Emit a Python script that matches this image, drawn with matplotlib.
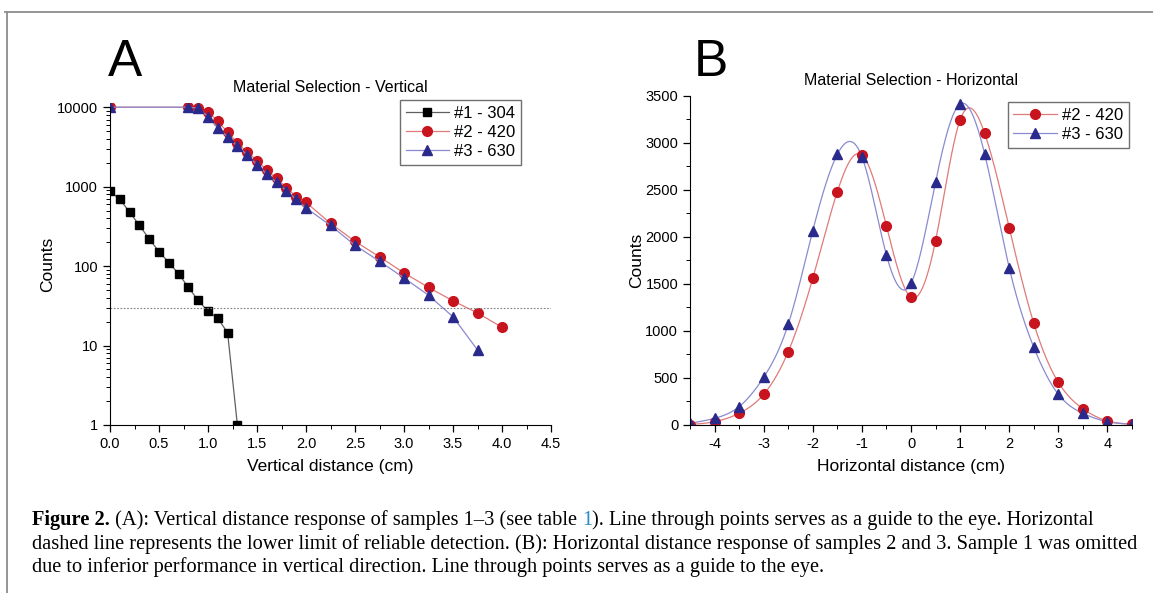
import numpy as np
import matplotlib
matplotlib.use("Agg")
import matplotlib.pyplot as plt
from matplotlib.ticker import MultipleLocator, FixedLocator, FixedFormatter, NullFormatter, LogLocator
from matplotlib.transforms import IdentityTransform
from matplotlib.lines import Line2D

plt.rcParams['font.family'] = ['Liberation Sans', 'DejaVu Sans']
plt.rcParams['axes.unicode_minus'] = False

# panel A - vertical distance (log counts)
vert_x1 = [0.0, 0.1, 0.2, 0.3, 0.4, 0.5, 0.6, 0.7, 0.8, 0.9, 1.0, 1.1, 1.2, 1.3]
vert_c1 = [880, 690, 480, 325, 220, 152, 111, 80, 54, 37, 27, 22, 14.5, 1]
vert_x2 = [0.0, 0.8, 0.9, 1.0, 1.1, 1.2, 1.3, 1.4, 1.5, 1.6, 1.7, 1.8, 1.9, 2.0,
           2.25, 2.5, 2.75, 3.0, 3.25, 3.5, 3.75, 4.0]
vert_c2 = [10000, 10000, 9800, 8740, 6610, 4870, 3550, 2710, 2130, 1610, 1270, 970, 750, 635,
           345, 205, 131, 82, 54, 36.5, 25.7, 17]
vert_x3 = [0.0, 0.8, 0.9, 1.0, 1.1, 1.2, 1.3, 1.4, 1.5, 1.6, 1.7, 1.8, 1.9, 2.0,
           2.25, 2.5, 2.75, 3.0, 3.25, 3.5, 3.75]
vert_c3 = [10000, 10000, 9700, 7630, 5520, 4220, 3225, 2510, 1880, 1440, 1130, 890, 690, 540,
           325, 183, 115, 71, 43, 23, 8.8]
detect_limit = 30

# panel B - horizontal distance
horiz_x = [-4.5, -4.0, -3.5, -3.0, -2.5, -2.0, -1.5, -1.0, -0.5, 0.0,
           0.5, 1.0, 1.5, 2.0, 2.5, 3.0, 3.5, 4.0, 4.5]
horiz_c2 = [5, 35, 124, 326, 779, 1559, 2480, 2870, 2115, 1357,
            1959, 3242, 3100, 2097, 1081, 454, 173, 43, 10]
horiz_c3 = [18, 71, 195, 507, 1070, 2065, 2877, 2852, 1807, 1506,
            2583, 3412, 2880, 1672, 826, 326, 124, 35, 8]

labels = ["#1 - 304", "#2 - 420", "#3 - 630"]

red_m, red_l = '#c8141e', '#e07a7a'
blue_m, blue_l = '#2a2a8c', '#8a8ad0'


def natural_spline(x, y, n=600):
    # smooth guide line through the points (natural cubic spline)
    x = np.asarray(x, float)
    y = np.asarray(y, float)
    h = np.diff(x)
    N = len(x)
    A = np.zeros((N, N))
    b = np.zeros(N)
    A[0, 0] = A[-1, -1] = 1
    for i in range(1, N - 1):
        A[i, i - 1] = h[i - 1]
        A[i, i] = 2 * (h[i - 1] + h[i])
        A[i, i + 1] = h[i]
        b[i] = 6 * ((y[i + 1] - y[i]) / h[i] - (y[i] - y[i - 1]) / h[i - 1])
    M = np.linalg.solve(A, b)
    xs = np.linspace(x[0], x[-1], n)
    k = np.clip(np.searchsorted(x, xs) - 1, 0, N - 2)
    t1 = x[k + 1] - xs
    t0 = xs - x[k]
    hk = h[k]
    ys = (M[k] * t1 ** 3 / (6 * hk) + M[k + 1] * t0 ** 3 / (6 * hk)
          + (y[k] / hk - M[k] * hk / 6) * t1 + (y[k + 1] / hk - M[k + 1] * hk / 6) * t0)
    return xs, ys


fig = plt.figure(figsize=(11.53, 5.93), dpi=100)

# frame of the figure box
fig.add_artist(Line2D([5 / 1153, 1], [1 - 12 / 593, 1 - 12 / 593], color='#8c8c8c', lw=1.3))
fig.add_artist(Line2D([7 / 1153, 7 / 1153], [0, 1 - 12 / 593], color='#8c8c8c', lw=1.3))

tick_kw = dict(direction='out', labelsize=10.5, width=0.9)

# ---------- A ----------
axA = fig.add_axes([110 / 1153, 1 - 425 / 593, 441 / 1153, 321.7 / 593])
axA.plot(vert_x1, vert_c1, color='#606060', lw=0.9, marker='s', ms=6,
         mfc='black', mec='black', label=labels[0])
axA.plot(vert_x2, vert_c2, color=red_l, lw=0.9, marker='o', ms=7,
         mfc=red_m, mec=red_m, label=labels[1])
axA.plot(vert_x3, vert_c3, color=blue_l, lw=0.9, marker='^', ms=7.5,
         mfc=blue_m, mec=blue_m, label=labels[2])
axA.axhline(detect_limit, color='#808080', ls=(0, (1.5, 1.5)), lw=0.8)
axA.set_yscale('log')
axA.set_xlim(0, 4.5)
axA.set_ylim(1, 10000 * 1.12)
axA.spines['left'].set_bounds(1, 10000)
for s in ['top', 'right']:
    axA.spines[s].set_visible(False)
axA.xaxis.set_major_locator(MultipleLocator(0.5))
axA.xaxis.set_minor_locator(MultipleLocator(0.25))
axA.xaxis.set_major_formatter(plt.FuncFormatter(lambda v, p: f"{v:.1f}"))
ydec = [1, 10, 100, 1000, 10000]
axA.yaxis.set_major_locator(FixedLocator(ydec))
axA.yaxis.set_major_formatter(FixedFormatter([str(v) for v in ydec]))
axA.yaxis.set_minor_locator(LogLocator(base=10, subs=np.arange(2, 10), numticks=20))
axA.yaxis.set_minor_formatter(NullFormatter())
axA.tick_params(which='major', length=5, **tick_kw)
axA.tick_params(which='minor', length=3, direction='out', width=0.7)
axA.set_xlabel("Vertical distance (cm)", fontsize=12.5, labelpad=6)
axA.set_ylabel("Counts", fontsize=12.5, labelpad=1.5)
axA.set_title("Material Selection - Vertical", fontsize=11.5, pad=8)
axA.legend(loc='upper right', bbox_to_anchor=(0.932, 1.01), borderaxespad=0,
           fontsize=12, fancybox=False, edgecolor='#707070', framealpha=1,
           handlelength=2.6, handletextpad=0.3, labelspacing=0.25, borderpad=0.35)

# ---------- B ----------
axB = fig.add_axes([690 / 1153, 1 - 425 / 593, 442 / 1153, 329.3 / 593])
xs, ys = natural_spline(horiz_x, horiz_c2)
axB.plot(xs, ys, color=red_l, lw=0.9)
xs, ys = natural_spline(horiz_x, horiz_c3)
axB.plot(xs, ys, color=blue_l, lw=0.9)
axB.plot(horiz_x, horiz_c2, ls='none', marker='o', ms=7, mfc=red_m, mec=red_m)
axB.plot(horiz_x, horiz_c3, ls='none', marker='^', ms=7.5, mfc=blue_m, mec=blue_m)
axB.set_xlim(-4.5, 4.5)
axB.set_ylim(0, 3500)
for s in ['top', 'right']:
    axB.spines[s].set_visible(False)
axB.xaxis.set_major_locator(FixedLocator([-4, -3, -2, -1, 0, 1, 2, 3, 4]))
axB.xaxis.set_minor_locator(MultipleLocator(0.5))
axB.yaxis.set_major_locator(MultipleLocator(500))
axB.yaxis.set_minor_locator(MultipleLocator(250))
axB.tick_params(which='major', length=5, **tick_kw)
axB.tick_params(which='minor', length=3, direction='out', width=0.7)
axB.set_xlabel("Horizontal distance (cm)", fontsize=12.5, labelpad=6)
axB.set_ylabel("Counts", fontsize=12.5, labelpad=1)
axB.set_title("Material Selection - Horizontal", fontsize=11.5, pad=8)
hB = [Line2D([], [], color=red_l, lw=0.9, marker='o', ms=7, mfc=red_m, mec=red_m),
      Line2D([], [], color=blue_l, lw=0.9, marker='^', ms=7.5, mfc=blue_m, mec=blue_m)]
axB.legend(hB, labels[1:], loc='upper right', bbox_to_anchor=(0.993, 0.981), borderaxespad=0,
           fontsize=12, fancybox=False, edgecolor='#707070', framealpha=1,
           handlelength=2.6, handletextpad=0.3, labelspacing=0.25, borderpad=0.35)

# panel letters
narrow = ['Liberation Sans Narrow', 'Liberation Sans', 'DejaVu Sans']
fig.text(108 / 1153, 1 - 76 / 593, "A", fontsize=37, family=narrow)
fig.text(694 / 1153, 1 - 76 / 593, "B", fontsize=37, family=narrow)

# caption, laid out run by run in pixel coordinates
serif = ['Liberation Serif', 'DejaVu Serif']
renderer = fig.canvas.get_renderer()


def text_width(s, size, weight='normal'):
    t = fig.text(0, 0, "|" + s + "|", fontsize=size, family=serif, weight=weight,
                 transform=IdentityTransform())
    w = t.get_window_extent(renderer).width
    t.set_text("||")
    w -= t.get_window_extent(renderer).width
    t.remove()
    return w


line2 = ("dashed line represents the lower limit of reliable detection. (B): Horizontal "
         "distance response of samples 2 and 3. Sample 1 was omitted")
cap_size = 12.0 * 1102 / text_width(line2, 12.0)

caption = [
    [("Figure 2.", 'bold', 'black'),
     (" (A): Vertical distance response of samples 1\u20133 (see table ", 'normal', 'black'),
     ("1", 'normal', '#2a8ac8'),
     ("). Line through points serves as a guide to the eye. Horizontal", 'normal', 'black')],
    [(line2, 'normal', 'black')],
    [("due to inferior performance in vertical direction. Line through points serves as a guide to the eye.",
      'normal', 'black')],
]
baselines = [525, 549, 572]
for runs, yb in zip(caption, baselines):
    x = 32
    for s, wt, col in runs:
        fig.text(x, 593 - yb, s, fontsize=cap_size, family=serif, weight=wt, color=col,
                 va='baseline', transform=IdentityTransform())
        x += text_width(s, cap_size, wt)

fig.savefig("out.png", dpi=100)
